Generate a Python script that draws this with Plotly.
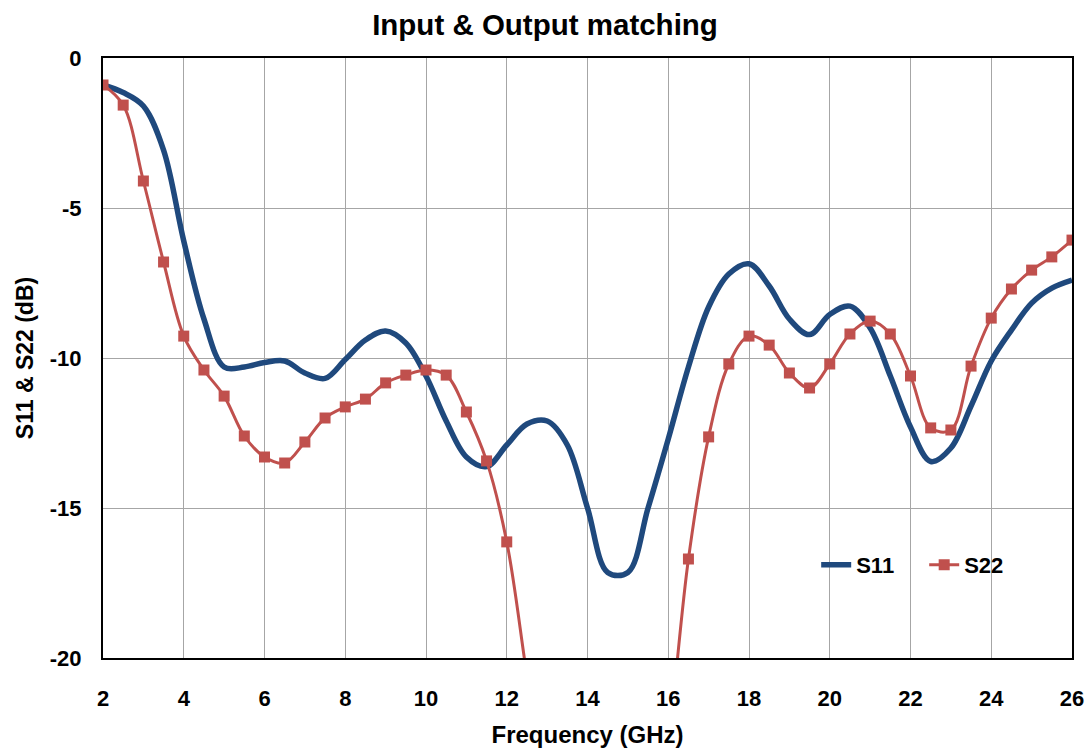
import plotly.graph_objects as go

freq = [2, 2.5, 3, 3.5, 4, 4.5, 5, 5.5, 6, 6.5, 7, 7.5, 8, 8.5, 9, 9.5, 10, 10.5, 11, 11.5,
        12, 12.5, 13, 13.5, 14, 14.5, 15, 15.5, 16, 16.5, 17, 17.5, 18, 18.5, 19, 19.5,
        20, 20.5, 21, 21.5, 22, 22.5, 23, 23.5, 24, 24.5, 25, 25.5, 26]

s11 = [-0.9, -1.15, -1.6, -3.07, -6.1, -8.7, -10.3, -10.3, -10.15, -10.1, -10.5, -10.68,
       -10.05, -9.4, -9.1, -9.5, -10.6, -12.1, -13.3, -13.62, -12.9, -12.2, -12.1, -12.9,
       -15.0, -17.15, -17.15, -15.0, -12.7, -10.3, -8.3, -7.2, -6.86, -7.6, -8.7, -9.22,
       -8.55, -8.27, -9.0, -10.6, -12.3, -13.45, -13.0, -11.6, -10.1, -9.07, -8.17, -7.67, -7.4]

s22 = [-0.9, -1.57, -4.1, -6.8, -9.27, -10.4, -11.27, -12.6, -13.3, -13.5, -12.8, -12.0,
       -11.63, -11.37, -10.83, -10.57, -10.4, -10.57, -11.8, -13.43, -16.13, -20.6, -25.0,
       -28.0, -30.0, -30.0, -29.0, -27.0, -22.8, -16.7, -12.63, -10.2, -9.27, -9.57, -10.5,
       -11.0, -10.2, -9.2, -8.77, -9.2, -10.6, -12.33, -12.4, -10.27, -8.67, -7.7, -7.07,
       -6.63, -6.07]

x_ticks = [2, 4, 6, 8, 10, 12, 14, 16, 18, 20, 22, 24, 26]
y_ticks = [0, -5, -10, -15, -20]

font_family = "Liberation Sans, Arial, sans-serif"

fig = go.Figure()
fig.add_trace(go.Scatter(
    x=freq, y=s11, name="<b>S11</b>", mode="lines",
    line=dict(color="#1F497D", width=5.5, shape="spline", smoothing=1.0),
))
fig.add_trace(go.Scatter(
    x=freq, y=s22, name="<b>S22</b>", mode="lines+markers",
    line=dict(color="#C0504D", width=3, shape="spline", smoothing=1.0),
    marker=dict(symbol="square", size=11, color="#C0504D"),
))

fig.update_layout(
    width=1088, height=749,
    paper_bgcolor="white", plot_bgcolor="white",
    margin=dict(l=103, r=16, t=58, b=91),
    font=dict(family=font_family, color="black", size=22),
    title=dict(text="<b>Input & Output matching</b>", x=545 / 1088, xref="container",
               y=1 - 25 / 749, yref="container", xanchor="center", yanchor="middle",
               font=dict(size=29.5, family=font_family, color="black")),
    showlegend=True,
    legend=dict(orientation="h", x=0.736, y=0.155, xanchor="left", yanchor="middle",
                bgcolor="rgba(0,0,0,0)", font=dict(size=22, family=font_family),
                traceorder="normal", entrywidth=63, entrywidthmode="pixels"),
)

fig.update_xaxes(
    range=[2, 26], tickvals=x_ticks, ticktext=[f"<b>{v}</b>" for v in x_ticks],
    showgrid=True, gridcolor="#A6A6A6", gridwidth=1,
    showline=True, linecolor="black", linewidth=2, mirror=True,
    ticks="", zeroline=False, ticklabelstandoff=20, automargin=False,
    title=dict(text="<b>Frequency (GHz)</b>", font=dict(size=24), standoff=16),
)
fig.update_yaxes(
    range=[-20, 0], tickvals=y_ticks, ticktext=[f"<b>{v}</b>" for v in y_ticks],
    showgrid=True, gridcolor="#A6A6A6", gridwidth=1,
    showline=True, linecolor="black", linewidth=2, mirror=True,
    ticks="", zeroline=False, ticklabelstandoff=15, automargin=False,
    title=dict(text="<b>S11 & S22 (dB)</b>", font=dict(size=23), standoff=10),
)

fig.write_html("out.html", config={"displayModeBar": False},
               post_script="document.body.style.margin='0';")
